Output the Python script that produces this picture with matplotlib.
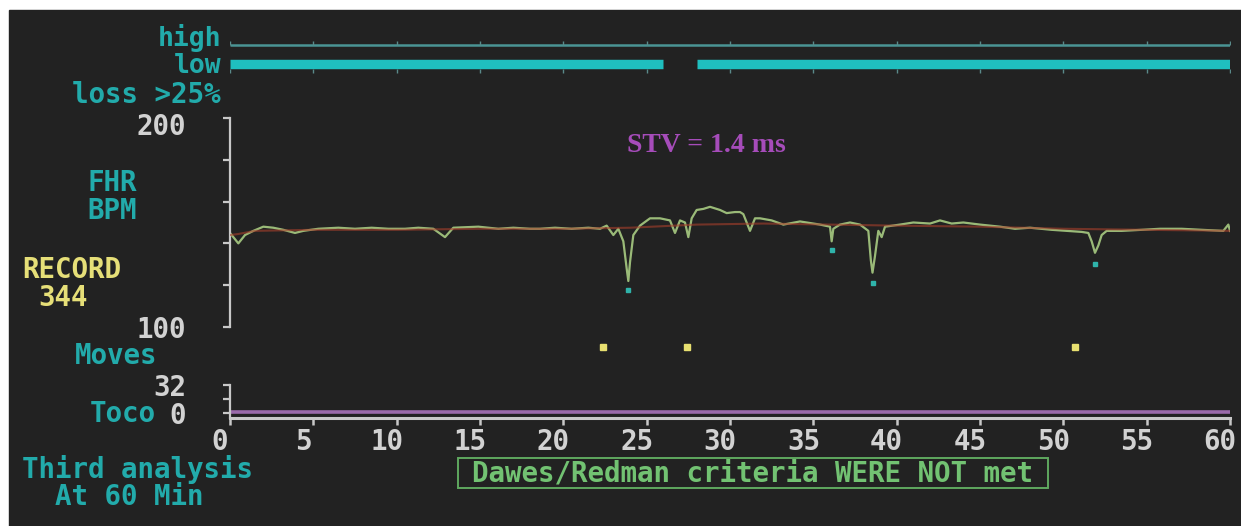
import matplotlib
matplotlib.use('Agg')
import matplotlib.pyplot as plt
from matplotlib.patches import Rectangle
from matplotlib.transforms import ScaledTranslation

# ---------------- data ----------------
fhr_t = [0, 0.3, 0.5, 0.9, 1.4, 2.0, 2.6, 3.2, 3.9, 4.4, 5.3, 6.5, 7.5, 8.5, 9.5,
         10.5, 11.3, 12.2, 12.9, 13.4, 14.9, 16.1, 17.0, 18.0, 18.6, 19.5, 20.5,
         21.5, 22.2, 22.6, 23.0, 23.3, 23.6, 23.8, 23.9, 24.0, 24.2, 24.6, 25.2,
         25.8, 26.4, 26.7, 27.0, 27.3, 27.5, 27.7, 28.0, 28.4, 28.8, 29.4, 29.8,
         30.3, 30.6, 30.8, 31.2, 31.5, 31.8, 32.5, 33.2, 34.2, 35.4, 36.0, 36.1,
         36.2, 36.6, 37.2, 37.8, 38.3, 38.45, 38.55, 38.7, 38.9, 39.1, 39.3, 40.2,
         41.0, 42.0, 42.6, 43.3, 44.0, 45.0, 46.2, 47.1, 48.0, 49.3, 50.2, 51.1,
         51.5, 51.7, 51.9, 52.1, 52.3, 52.6, 53.5, 54.7, 55.8, 57.1, 58.3, 59.6,
         59.9, 60.0]
fhr_v = [145, 142, 140, 144, 146, 148, 147.5, 146.5, 145, 146, 147, 147.5, 147,
         147.5, 147, 147, 147.5, 147, 143, 147.5, 148, 147, 147.5, 147, 147,
         147.5, 147, 147.5, 147, 148.5, 144, 147, 141, 128, 122, 131, 144, 148.5,
         152, 152, 151, 145, 151, 150, 143, 152, 156, 156.5, 157.5, 156, 154.5,
         155, 155, 154, 146, 152, 152, 151, 149, 150.5, 149, 148, 141, 147, 149,
         150, 149, 146, 132, 126, 134, 146, 143, 148, 149, 150, 149.5, 151, 149.5,
         150, 149, 148, 147, 147.5, 146.5, 146, 145.5, 145, 141, 135.5, 139, 144,
         146, 146, 146.5, 147, 147, 146.5, 146, 149, 146]

base_t = [0, 0.5, 1.5, 5, 10, 15, 20, 24, 28, 32, 36, 40, 45, 50, 55, 60]
base_v = [144, 144.5, 146, 146.5, 146.5, 147, 147, 147.5, 149, 149.5, 149,
          148.5, 148, 147, 146.5, 146]

decel_t = [23.9, 36.1, 38.6, 51.9]
decel_v = [117.5, 137, 121, 130]

moves_t = [22.4, 27.4, 50.7]

high_start = [0]
high_end = [60]
low_start = [0, 28]
low_end = [26, 60]

toco_t = [0, 60]
toco_v = [1, 1]

x_ticks = [0, 5, 10, 15, 20, 25, 30, 35, 40, 45, 50, 55, 60]
fhr_ticks = [100, 120, 140, 160, 180, 200]
fhr_tick_labels = ['100', '', '', '', '', '200']
toco_ticks = [0, 16, 32]
toco_tick_labels = ['0', '', '32']

# ---------------- style ----------------
W, H = 1241, 526
BG = '#222222'
TEAL = '#22abab'
GRAY = '#d2d2d2'
YEL = '#e6df78'
FS = 19.8
MONO = dict(family='DejaVu Sans Mono', weight='bold', size=FS)

fig = plt.figure(figsize=(W / 100, H / 100), dpi=100, facecolor='white')
fig.patches.append(Rectangle((9 / W, 0), 1 - 9 / W, 1 - 10 / H,
                             transform=fig.transFigure, color=BG, zorder=-10))


def ax_at(x0, y0, x1, y1):
    ax = fig.add_axes([x0 / W, 1 - y1 / H, (x1 - x0) / W, (y1 - y0) / H])
    ax.set_facecolor('none')
    ax.patch.set_alpha(0)
    for s in ax.spines.values():
        s.set_visible(False)
    ax.set_xticks([])
    ax.set_yticks([])
    ax.set_xlim(0, 60)
    return ax


def ftext(x, y, s, color, ha='left', **kw):
    d = dict(MONO)
    d.update(kw)
    fig.text(x / W, 1 - y / H, s, color=color, ha=ha, va='center', **d)


def mono_labels(labels):
    for lab in labels:
        lab.set_fontfamily('DejaVu Sans Mono')
        lab.set_fontweight('bold')


# ---- signal quality bars ----
axb = ax_at(230, 35, 1230, 75)
axb.set_ylim(-0.579, 1.526)
axb.hlines([1] * len(high_start), high_start, high_end, color='#4a9494',
           lw=1.8, capstyle='butt')
axb.hlines([0] * len(low_start), low_start, low_end, color='#1fbfbf',
           lw=6.8, capstyle='butt')
axb.plot(x_ticks, [1.1] * len(x_ticks), '|', ms=3.5, color='#5a8a8a', mew=1.0)
axb.plot(x_ticks, [-0.36] * len(x_ticks), '|', ms=3.5, color='#5a8a8a', mew=1.0)

# ---- FHR ----
axf = ax_at(230, 118, 1230, 327)
axf.set_ylim(100, 200)
axf.spines['left'].set_visible(True)
axf.spines['left'].set_color('#c8c8c8')
axf.spines['left'].set_linewidth(1.6)
axf.set_yticks(fhr_ticks)
axf.set_yticklabels(fhr_tick_labels)
axf.tick_params(axis='y', direction='out', length=5, width=1.6,
                color='#c8c8c8', labelcolor=GRAY, pad=26.5, labelsize=FS)
mono_labels(axf.get_yticklabels())
ylabs = axf.get_yticklabels()
ylabs[-1].set_transform(ylabs[-1].get_transform() +
                        ScaledTranslation(0, -6 / 100, fig.dpi_scale_trans))
axf.plot(fhr_t, fhr_v, color='#a8cc82', lw=1.6, alpha=0.9, zorder=2)
axf.plot(base_t, base_v, color='#a8402c', lw=1.5, alpha=0.6, zorder=3)
axf.plot(decel_t, decel_v, 's', ms=3.2, color='#2fb3aa', zorder=4)

# ---- moves ----
axm = ax_at(230, 338, 1230, 356)
axm.set_ylim(0, 1)
axm.plot(moves_t, [0.5] * len(moves_t), 's', ms=4.2, color='#e8e070')

# ---- toco ----
axt = ax_at(230, 385, 1230, 418)
axt.set_ylim(-5.7, 32)
axt.spines['left'].set_visible(True)
axt.spines['left'].set_color('#c8c8c8')
axt.spines['left'].set_linewidth(1.6)
axt.spines['bottom'].set_visible(True)
axt.spines['bottom'].set_color('#c8c8c8')
axt.spines['bottom'].set_linewidth(2.2)
axt.set_yticks(toco_ticks)
axt.set_yticklabels(toco_tick_labels)
axt.tick_params(axis='y', direction='out', length=5, width=1.6,
                color='#c8c8c8', labelcolor=GRAY, pad=26.5, labelsize=FS)
axt.set_xticks(x_ticks)
axt.set_xticklabels([str(t) for t in x_ticks])
axt.tick_params(axis='x', direction='out', length=5, width=1.8,
                color='#c8c8c8', labelcolor=GRAY, pad=2, labelsize=FS)
mono_labels(axt.get_yticklabels() + axt.get_xticklabels())
off = ScaledTranslation(-10 / 100, 0, fig.dpi_scale_trans)
for lab in axt.get_xticklabels():
    lab.set_transform(lab.get_transform() + off)
axt.plot(toco_t, toco_v, color='#9a6aaa', lw=2.6, solid_capstyle='butt')

# ---- texts ----
ftext(221, 38, 'high', TEAL, ha='right', size=19)
ftext(221, 66, 'low', TEAL, ha='right', size=19)
ftext(221, 95, 'loss >25%', TEAL, ha='right')
ftext(112, 183, 'FHR', TEAL, ha='center')
ftext(112, 211, 'BPM', TEAL, ha='center')
ftext(22, 270, 'RECORD', YEL)
ftext(38, 298, '344', YEL)
ftext(75, 356, 'Moves', TEAL)
ftext(156, 414, 'Toco', TEAL, ha='right')
ftext(22, 470, 'Third analysis', TEAL)
ftext(55, 497, 'At 60 Min', TEAL)
ftext(753, 473, 'Dawes/Redman criteria WERE NOT met', '#72c272', ha='center')
fig.patches.append(Rectangle((458 / W, 1 - 488 / H), 590 / W, 30 / H,
                             transform=fig.transFigure, fill=False,
                             edgecolor='#5fa85f', lw=1.4, zorder=3))
fig.text(706 / W, 1 - 145 / H, 'STV = 1.4 ms', color='#a64cba', ha='center',
         va='center', family='Liberation Serif', weight='bold', size=20)

fig.savefig('out.png', dpi=100, facecolor=fig.get_facecolor())
